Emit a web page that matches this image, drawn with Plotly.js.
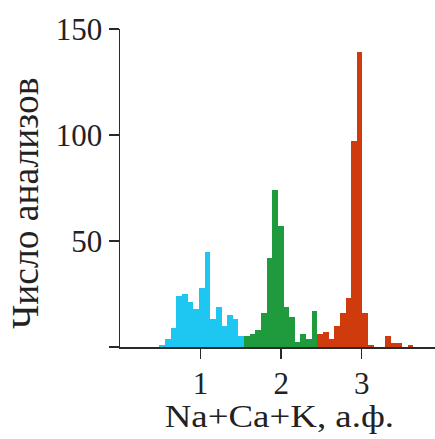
<!DOCTYPE html>
<html><head><meta charset="utf-8">
<script src="https://cdn.plot.ly/plotly-3.0.1.min.js"></script>
<style>html,body{margin:0;padding:0;background:#fff}</style>
</head><body><div id="chart" style="width:435px;height:439px"></div>
<script>
const cyanX = [0.525,0.595,0.665,0.735,0.805,0.875,0.945,1.015,1.085,1.155,1.225,1.295,1.365,1.435,1.505];
const cyanY = [1,4,9,24,25,21,18,28,45,13,19,10,15,13,5];
const greenX = [1.575,1.645,1.715,1.785,1.855,1.925,1.995,2.065,2.135,2.205,2.275,2.345,2.415];
const greenY = [5,6,8,16,42,74,57,19,14,2.5,6,4,17];
const redX = [2.485,2.555,2.625,2.695,2.765,2.835,2.905,2.975,3.045,3.115,3.185,3.255,3.325,3.395,3.465,3.535,3.605];
const redY = [6,7,4,10,16,23,97,139,16,1,0,0,5,2,2,0,1];
const yTickVals = [0,50,100,150];
const yTickText = ['','50','100','150'];
const xTickVals = [1,2,3];
const xTitle = 'Na+Ca+K, а.ф.';
const yTitle = 'Число анализов';

const W = 0.07;
const mk = (x,y,c)=>({type:'bar',x:x,y:y,width:W,marker:{color:c,line:{width:0}},hoverinfo:'skip',showlegend:false});
const fam = '"Liberation Serif", "Times New Roman", serif';
const tickFont = {family:fam, size:31, color:'#222'};
const xTitleFont = {family:fam, size:31, color:'#222'};
const yTitleFont = {family:fam, size:37.5, color:'#222'};
Plotly.newPlot('chart',[
  mk(cyanX,cyanY,'#1ec6f2'),
  mk(greenX,greenY,'#1f9a3c'),
  mk(redX,redY,'#cf3b0c')
],{
  width:435,height:439,
  margin:{l:120,r:0,t:29,b:92,pad:0},
  paper_bgcolor:'#fff',plot_bgcolor:'#fff',
  bargap:0,barmode:'overlay',
  font:tickFont,
  xaxis:{range:[0,3.91],tickvals:xTickVals,ticks:'outside',ticklen:10,tickwidth:1.5,tickcolor:'#2a2a2a',
    showline:true,linecolor:'#2a2a2a',linewidth:1.5,showgrid:false,zeroline:false,tickfont:tickFont,fixedrange:true,ticklabelstandoff:-2},
  yaxis:{range:[0,150],tickvals:yTickVals,ticktext:yTickText,ticks:'outside',ticklen:10,tickwidth:1.5,tickcolor:'#2a2a2a',
    showline:true,linecolor:'#2a2a2a',linewidth:1.5,showgrid:false,zeroline:false,tickfont:tickFont,fixedrange:true,ticklabelstandoff:0},
  annotations:[
    {text:xTitle,xref:'paper',yref:'paper',x:0.505,y:-0.22,xanchor:'center',yanchor:'middle',showarrow:false,font:xTitleFont},
    {text:yTitle,xref:'paper',yref:'paper',x:-0.30,y:0.451,xanchor:'center',yanchor:'middle',textangle:-90,showarrow:false,font:yTitleFont}
  ]
},{displayModeBar:false,staticPlot:true}).then(()=>{
  const t = document.querySelectorAll('.annotation-text')[0];
  if (t) {
    t.style.transformBox = 'fill-box';
    t.style.transformOrigin = 'center';
    t.style.transform = 'scaleX(1.19)';
  }
});
</script></body></html>
